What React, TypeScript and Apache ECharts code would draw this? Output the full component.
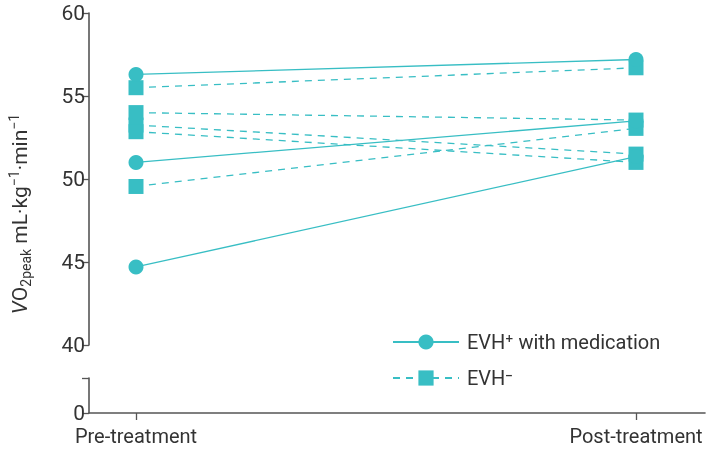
import React, { useEffect, useRef } from "react";
import * as echarts from "echarts";

const categories = ["Pre-treatment", "Post-treatment"];
const yTicks = [40, 45, 50, 55, 60];
const evhPlusPre = [56.3, 51.0, 44.7];
const evhPlusPost = [57.2, 53.5, 51.35];
const evhMinusPre = [55.5, 54.0, 53.25, 52.85, 49.55];
const evhMinusPost = [56.7, 53.55, 51.5, 51.0, 53.05];
const seriesNames = ["EVH\u207A with medication", "EVH\u207B"];

const TEAL = "#38bec4";
const AXIS = "#555555";
const TXT = "#333333";
const FONT = "Roboto";

export default function App() {
  const ref = useRef<HTMLDivElement>(null);
  useEffect(() => {
    if (!ref.current) return;
    const chart = echarts.init(ref.current, null, { renderer: "svg" });
    const xMin = -0.094;
    const xMax = 1.138;
    const series: any[] = [];
    evhMinusPre.forEach((v, i) => {
      series.push({
        type: "line",
        name: seriesNames[1],
        xAxisIndex: 0,
        yAxisIndex: 0,
        data: [[0, v], [1, evhMinusPost[i]]],
        symbol: "rect",
        symbolSize: 15,
        itemStyle: { color: TEAL },
        lineStyle: { color: TEAL, width: 1.3, type: [7, 6] },
        z: 2,
      });
    });
    evhPlusPre.forEach((v, i) => {
      series.push({
        type: "line",
        name: seriesNames[0],
        xAxisIndex: 0,
        yAxisIndex: 0,
        data: [[0, v], [1, evhPlusPost[i]]],
        symbol: "circle",
        symbolSize: 15,
        itemStyle: { color: TEAL },
        lineStyle: { color: TEAL, width: 1.3, type: "solid" },
        z: 3,
      });
    });

    const option: any = {
      animation: false,
      grid: [
        { left: 89, right: 11, top: 13, bottom: 105 },
        { left: 89, right: 11, top: 378, bottom: 37 },
      ],
      xAxis: [
        { type: "value", gridIndex: 0, min: xMin, max: xMax, show: false },
        {
          type: "value",
          gridIndex: 1,
          min: xMin,
          max: xMax,
          splitLine: { show: false },
          axisLine: { show: true, onZero: false, lineStyle: { color: AXIS, width: 1.6 } },
          axisTick: { show: true, length: 7, customValues: [0, 1], lineStyle: { color: AXIS, width: 1.3 } },
          axisLabel: {
            customValues: [0, 1],
            formatter: (v: number) => categories[Math.round(v)] ?? "",
            color: TXT,
            fontFamily: FONT,
            fontSize: 20,
            margin: 13,
          },
        },
      ],
      yAxis: [
        {
          type: "value",
          gridIndex: 0,
          min: 40,
          max: 60,
          interval: 5,
          splitLine: { show: false },
          axisLine: { show: true, onZero: false, lineStyle: { color: AXIS, width: 1.6 } },
          axisTick: { show: true, length: 7, lineStyle: { color: AXIS, width: 1.3 } },
          axisLabel: {
            color: TXT,
            fontFamily: FONT,
            fontSize: 21,
            margin: 4,
            formatter: (v: number) => (yTicks.includes(v) ? String(v) : ""),
          },
        },
        {
          type: "value",
          gridIndex: 1,
          min: 0,
          max: 1,
          interval: 1,
          splitLine: { show: false },
          axisLine: { show: true, onZero: false, lineStyle: { color: AXIS, width: 1.6 } },
          axisTick: { show: true, length: 7, lineStyle: { color: AXIS, width: 1.3 } },
          axisLabel: {
            color: TXT,
            fontFamily: FONT,
            fontSize: 21,
            margin: 4,
            formatter: (v: number) => (v === 0 ? "0" : ""),
          },
        },
      ],
      legend: {
        orient: "vertical",
        left: 387,
        top: 327,
        itemWidth: 66,
        itemHeight: 19,
        itemGap: 16,
        data: [seriesNames[0], seriesNames[1]],
        textStyle: { color: TXT, fontFamily: FONT, fontSize: 20, padding: [0, 0, 0, 3] },
      },
      graphic: [
        {
          type: "text",
          x: 20,
          y: 214,
          rotation: Math.PI / 2,
          style: {
            text: "{i|V}{n|O}{s|2peak}{n| mL·kg}{p|−1}{n|·min}{p|−1}",
            align: "center",
            verticalAlign: "middle",
            fill: TXT,
            fontFamily: FONT,
            fontSize: 21,
            rich: {
              i: { fontStyle: "italic", fontSize: 21, fontFamily: FONT, fill: TXT, lineHeight: 26, verticalAlign: "middle" },
              n: { fontSize: 21, fontFamily: FONT, fill: TXT, lineHeight: 26, verticalAlign: "middle" },
              s: { fontSize: 14, fontFamily: FONT, fill: TXT, lineHeight: 26, verticalAlign: "bottom" },
              p: { fontSize: 14, fontFamily: FONT, fill: TXT, lineHeight: 26, verticalAlign: "top" },
            },
          },
        },
      ],
      series,
    };
    chart.setOption(option);
    return () => chart.dispose();
  }, []);
  return <div ref={ref} style={{ position: "fixed", left: 0, top: 0, width: 716, height: 450 }} />;
}
